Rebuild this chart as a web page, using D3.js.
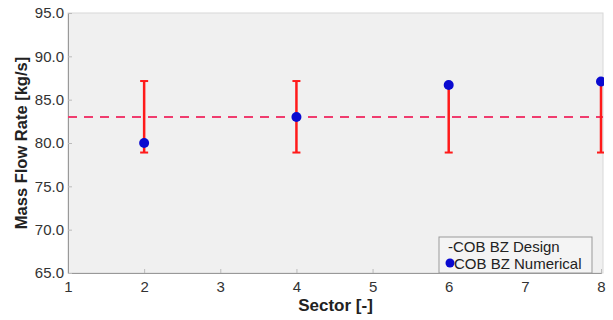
<!DOCTYPE html>
<html>
<head>
<meta charset="utf-8">
<script src="https://cdn.jsdelivr.net/npm/d3@7"></script>
<style>
  body { margin: 0; background: #fff; }
  text { font-family: Arial, "Liberation Sans", sans-serif; }
</style>
</head>
<body>
<div id="chart"></div>
<script>
// data
const sectors = [2, 4, 6, 8];
const numerical = [80.0, 83.0, 86.7, 87.1];
const errLow = [78.9, 78.9, 78.9, 78.9];
const errHigh = [87.15, 87.15, 86.7, 87.1];
const designValue = 83.0;
const yTicks = [65, 70, 75, 80, 85, 90, 95];
const xTicks = [1, 2, 3, 4, 5, 6, 7, 8];
const legendLabels = ['-COB BZ Design', 'COB BZ Numerical'];

const width = 613, height = 320;
const margin = { top: 13, right: 10, bottom: 47, left: 68 };
const w = width - margin.left - margin.right;
const h = height - margin.top - margin.bottom;

const svg = d3.select('#chart').append('svg')
    .attr('width', width)
    .attr('height', height);

const chart = svg.append('g')
    .attr('transform', `translate(${margin.left},${margin.top})`);

const x = d3.scaleLinear().domain([1, 8]).range([0, w - 2]);
const y = d3.scaleLinear().domain([65, 95]).range([h, 0]);

chart.append('clipPath').attr('id', 'plotclip')
    .append('rect').attr('width', w + 1).attr('height', h);

chart.append('rect')
    .attr('width', w).attr('height', h)
    .attr('fill', '#f0f0f0')
    .attr('stroke', '#d8d8d8');

// axes
const xAxis = chart.append('g')
    .attr('transform', `translate(0,${h})`)
    .call(d3.axisBottom(x).tickValues(xTicks).tickFormat(d3.format('d')).tickSize(-4).tickPadding(8));
const yAxis = chart.append('g')
    .call(d3.axisLeft(y).tickValues(yTicks).tickFormat(d3.format('.1f')).tickSize(-4).tickPadding(4));

[xAxis, yAxis].forEach(a => {
    a.select('.domain').attr('stroke', '#999');
    a.selectAll('.tick line').attr('stroke', '#bbb');
    a.selectAll('.tick text').attr('fill', '#333').style('font-size', '15px');
});

const plot = chart.append('g').attr('clip-path', 'url(#plotclip)');

// design line
plot.append('line')
    .attr('x1', 0).attr('x2', w)
    .attr('y1', y(designValue)).attr('y2', y(designValue))
    .attr('stroke', '#f03c6e')
    .attr('stroke-width', 2)
    .attr('stroke-dasharray', '9,7');

// error bars
const eb = plot.selectAll('.err')
    .data(sectors.map((s, i) => ({ s, lo: errLow[i], hi: errHigh[i], v: numerical[i] })))
    .enter().append('g').attr('class', 'err');

eb.append('line')
    .attr('x1', d => x(d.s)).attr('x2', d => x(d.s))
    .attr('y1', d => y(d.lo)).attr('y2', d => y(d.hi))
    .attr('stroke', '#ff1a1a').attr('stroke-width', 2.5);
eb.append('line')
    .attr('x1', d => x(d.s) - 4).attr('x2', d => x(d.s) + 4)
    .attr('y1', d => y(d.lo)).attr('y2', d => y(d.lo))
    .attr('stroke', '#ff1a1a').attr('stroke-width', 2);
eb.append('line')
    .attr('x1', d => x(d.s) - 4).attr('x2', d => x(d.s) + 4)
    .attr('y1', d => y(d.hi)).attr('y2', d => y(d.hi))
    .attr('stroke', '#ff1a1a').attr('stroke-width', 2);

eb.append('circle')
    .attr('cx', d => x(d.s)).attr('cy', d => y(d.v))
    .attr('r', 5)
    .attr('fill', '#0a0ad0');

// axis labels
svg.append('text')
    .attr('x', margin.left + w / 2).attr('y', 311)
    .attr('text-anchor', 'middle')
    .style('font-size', '17px').style('font-weight', 'bold')
    .attr('fill', '#222')
    .text('Sector [-]');

svg.append('text')
    .attr('transform', `translate(27,${margin.top + h / 2}) rotate(-90)`)
    .attr('text-anchor', 'middle')
    .style('font-size', '16.5px').style('font-weight', 'bold')
    .attr('fill', '#222')
    .text('Mass Flow Rate [kg/s]');

// legend
const lg = svg.append('g').attr('transform', 'translate(439,237)');
lg.append('rect')
    .attr('width', 153).attr('height', 36)
    .attr('fill', '#f4f4f4').attr('stroke', '#999');
lg.append('text').attr('x', 9).attr('y', 15)
    .style('font-size', '15px').attr('fill', '#222')
    .text(legendLabels[0]);
lg.append('circle').attr('cx', 11).attr('cy', 26).attr('r', 4.5).attr('fill', '#0a0ad0');
lg.append('text').attr('x', 15).attr('y', 32)
    .style('font-size', '15px').attr('fill', '#222')
    .text(legendLabels[1]);
</script>
</body>
</html>
